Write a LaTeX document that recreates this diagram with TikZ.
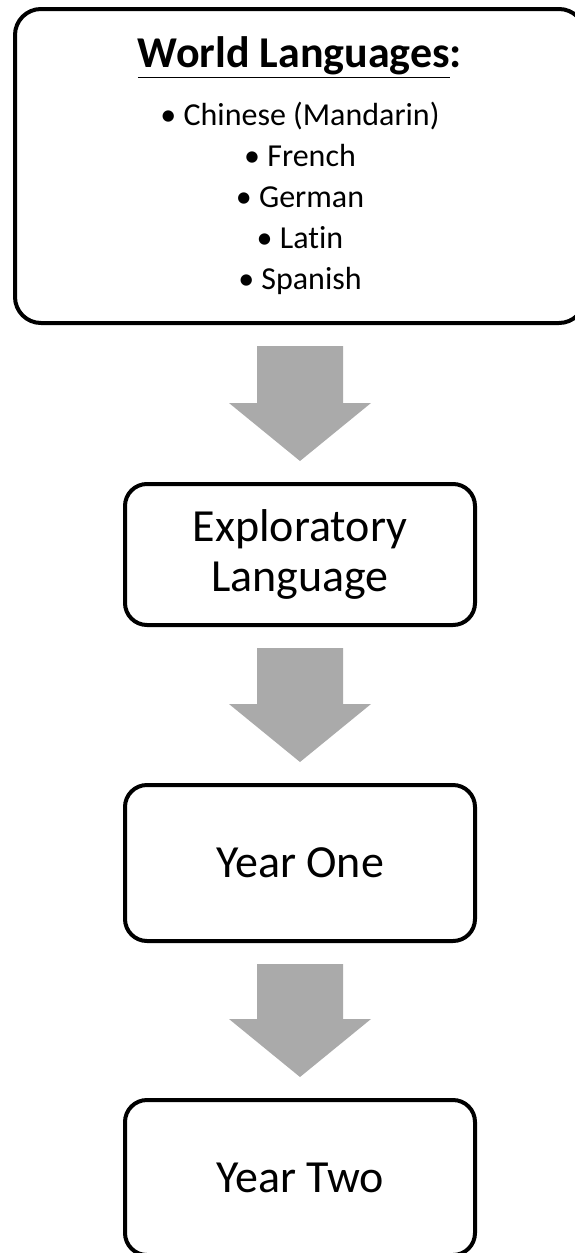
\documentclass[tikz,border=0pt]{standalone}
\usepackage{fontspec}
\setmainfont{Carlito}[Ligatures=NoCommon]
\usetikzlibrary{calc}

\definecolor{arrowgray}{RGB}{170,170,170}

\tikzset{
  stagebox/.style={draw=black, line width=4pt, rounded corners=22pt,
    minimum width=350pt, inner sep=0pt, align=center,
    font=\fontsize{46}{50}\selectfont},
  blockarrow/.style={fill=arrowgray, draw=none}
}

\begin{document}
\begin{tikzpicture}[x=1pt,y=1pt,yscale=-1]
  \useasboundingbox (0,0) rectangle (575,1253);
  % languages box (runs off the right edge)
  \node[draw=black, line width=4pt, rounded corners=26pt, minimum width=570pt,
        minimum height=314pt, inner sep=0pt, align=center,
        font=\fontsize{32}{41}\selectfont] (langs) at (300,166)
    {{\fontsize{44}{48}\selectfont\bfseries\underline{World Languages}:}\\[17pt]
     \textbullet\ Chinese (Mandarin)\\
     \textbullet\ French\\ \textbullet\ German\\ \textbullet\ Latin\\ \textbullet\ Spanish};
  % stages
  \node[stagebox, minimum height=141pt] (explore) at (300,554.5)
    {Exploratory\\Language};
  \node[stagebox, minimum height=156pt] (yearone) at (300,863) {Year One};
  \node[stagebox, minimum height=155pt] (yeartwo) at (300,1177.5) {Year Two};
  % block arrows between the boxes
  \foreach \a/\b in {langs/explore, explore/yearone, yearone/yeartwo}{
    \coordinate (tip) at ($(\b.north)+(0,-21)$);
    \coordinate (top) at ($(tip |- \a.south)+(0,21)$);
    \fill[blockarrow] ($(top)+(-43,0)$) -- ($(top)+(43,0)$)
      -- ($(tip)+(43,-58)$) -- ($(tip)+(71,-58)$) -- (tip)
      -- ($(tip)+(-71,-58)$) -- ($(tip)+(-43,-58)$) -- cycle;
  }
\end{tikzpicture}
\end{document}
